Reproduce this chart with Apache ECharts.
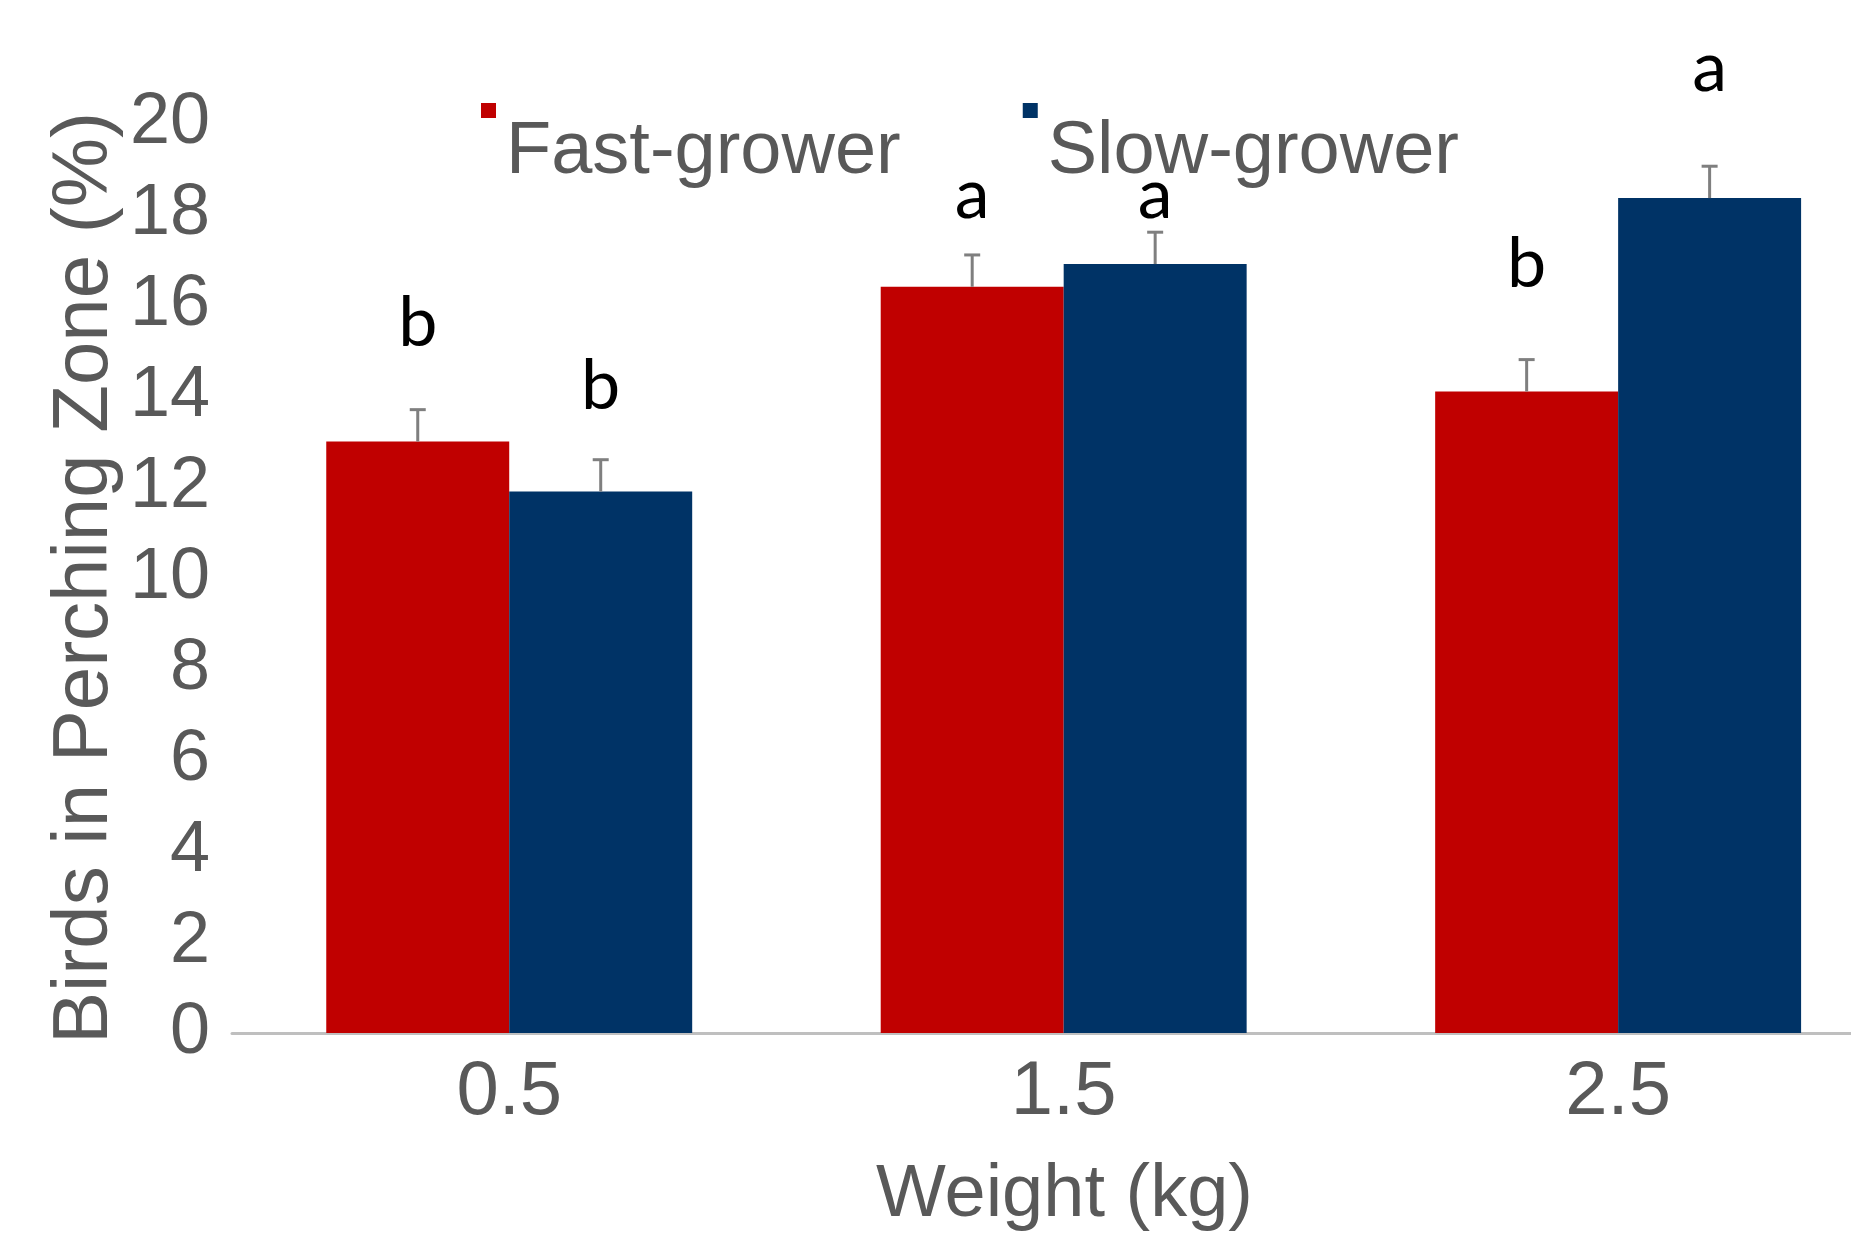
<!DOCTYPE html>
<html>
<head>
<meta charset="utf-8">
<script src="https://cdn.jsdelivr.net/npm/echarts@6/dist/echarts.min.js"></script>
<style>
html,body{margin:0;padding:0;background:#fff;overflow:hidden;}
#chart{width:1851px;height:1238px;}
</style>
</head>
<body>
<div id="chart"></div>
<script>
const categories = ['0.5', '1.5', '2.5'];
const fastValues = [13.0, 16.4, 14.1];
const slowValues = [11.9, 16.9, 18.35];
const fastErr = [0.7, 0.7, 0.7];
const slowErr = [0.7, 0.7, 0.7];
const fastLetters = ['b', 'a', 'b'];
const slowLetters = ['b', 'a', 'a'];
const fastLetterY = [15.6, 18.4, 16.9];
const slowLetterY = [14.2, 18.4, 21.2];
const seriesNames = ['Fast-grower', 'Slow-grower'];
const colors = ['#C00000', '#003366'];
const yMin = 0, yMax = 20, yInterval = 2;
// x axis: categories placed at index positions; the right end is cut by the picture edge
const xMin = -0.5, xMax = 2.42;

const chart = echarts.init(document.getElementById('chart'));
const GAP = 0.34;

function errSeries(si, vals, errs, letters, ly) {
  return {
    type: 'custom',
    name: seriesNames[si] + ' error',
    clip: false,
    z: 5,
    data: vals.map((v, i) => [i, v, errs[i], letters[i], ly[i]]),
    renderItem: function (params, api) {
      const idx = api.value(0), v = api.value(1), e = api.value(2), ly = api.value(4);
      const band = api.size([1, 0])[0];
      const bw = band * (1 - GAP) / 2;
      const base = api.coord([idx, v]);
      const x = base[0] + (si === 0 ? -bw / 2 : bw / 2);
      const top = api.coord([idx, v + e])[1];
      const lp = api.coord([idx, ly])[1];
      return {
        type: 'group',
        children: [
          {type: 'line', shape: {x1: x, y1: base[1], x2: x, y2: top}, style: {stroke: '#7f7f7f', lineWidth: 3}},
          {type: 'line', shape: {x1: x - 8, y1: top, x2: x + 8, y2: top}, style: {stroke: '#7f7f7f', lineWidth: 3}},
          {type: 'text', style: {x: x, y: lp, text: letters[params.dataIndex], fill: '#000', fontSize: 70, fontFamily: 'Lato', align: 'center', verticalAlign: 'middle'}}
        ]
      };
    }
  };
}

const legendIcon = 'path://M0,0L15,0L15,15L0,15Z M0,100L20,100';

chart.setOption({
  animation: false,
  backgroundColor: '#fff',
  textStyle: {fontFamily: 'Liberation Sans'},
  legend: {
    data: seriesNames,
    left: 476,
    top: 98,
    itemWidth: 20,
    itemHeight: 100,
    itemGap: 122,
    icon: legendIcon,
    textStyle: {fontSize: 74, color: '#595959', fontFamily: 'Liberation Sans'}
  },
  grid: {left: 232, right: 0, top: 123, bottom: 203},
  xAxis: {
    type: 'value',
    min: xMin,
    max: xMax,
    name: 'Weight (kg)',
    nameLocation: 'middle',
    nameGap: 126,
    nameMoveOverlap: false,
    nameTextStyle: {fontSize: 74, color: '#595959', padding: [0, 0, 0, 46]},
    axisTick: {show: false},
    splitLine: {show: false},
    axisLine: {show: true, onZero: false, lineStyle: {color: '#bfbfbf', width: 3}},
    axisLabel: {
      fontSize: 76, color: '#595959', margin: 22,
      customValues: categories.map((c, i) => i),
      formatter: function (v) { return categories[Math.round(v)]; }
    }
  },
  yAxis: {
    type: 'value',
    min: yMin, max: yMax, interval: yInterval,
    name: 'Birds in Perching Zone (%)',
    nameLocation: 'middle',
    nameRotate: 90,
    nameGap: 147,
    nameMoveOverlap: false,
    nameTextStyle: {fontSize: 78, color: '#595959', verticalAlign: 'middle'},
    axisLine: {show: false},
    axisTick: {show: false},
    splitLine: {show: false},
    axisLabel: {fontSize: 72, color: '#595959', margin: 22}
  },
  series: [
    {type: 'bar', name: seriesNames[0], data: fastValues.map((v, i) => [i, v]), barGap: '0%', barCategoryGap: '34%', itemStyle: {color: colors[0]}},
    {type: 'bar', name: seriesNames[1], data: slowValues.map((v, i) => [i, v]), barGap: '0%', barCategoryGap: '34%', itemStyle: {color: colors[1]}},
    errSeries(0, fastValues, fastErr, fastLetters, fastLetterY),
    errSeries(1, slowValues, slowErr, slowLetters, slowLetterY)
  ]
});
</script>
</body>
</html>
